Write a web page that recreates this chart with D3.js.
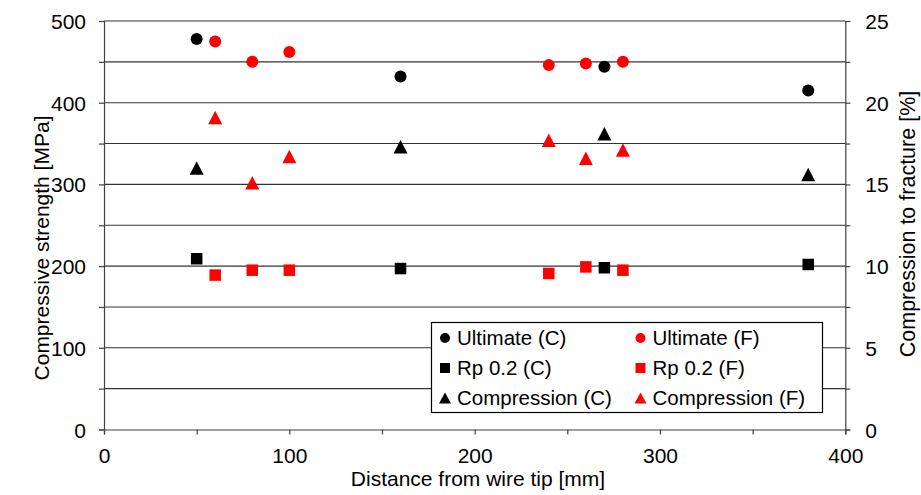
<!DOCTYPE html>
<html>
<head>
<meta charset="utf-8">
<script src="https://cdn.jsdelivr.net/npm/d3@7"></script>
<style>
  html, body { margin: 0; padding: 0; background: #fff; }
  svg { display: block; font-family: "Liberation Sans", Arial, sans-serif; }
</style>
</head>
<body>
<svg id="chart" width="921" height="495"></svg>
<script>
// Sample positions along the wire [mm]
const distC = [50, 160, 270, 380];
const distF = [60, 80, 100, 240, 260, 280];

// Compressive strength [MPa]
const ultimateC = [478, 432, 444, 415];
const ultimateF = [475, 450, 462, 446, 448, 450];
const rp02C = [209, 197, 198, 202];
const rp02F = [189, 195, 195, 191, 199, 195];

// Compression to fracture [%]
const compressionC = [16.0, 17.3, 18.1, 15.6];
const compressionF = [19.1, 15.1, 16.7, 17.7, 16.6, 17.1];

// Axis ticks
const xTicks = [0, 100, 200, 300, 400];
const xMinorTicks = [50, 150, 250, 350];
const yLeftTicks = [0, 100, 200, 300, 400, 500];
const yLeftGrid = [50, 100, 150, 200, 250, 300, 350, 400, 450, 500];
const yRightTicks = [0, 5, 10, 15, 20, 25];

const legendLabels = ["Ultimate (C)", "Ultimate (F)", "Rp 0.2 (C)", "Rp 0.2 (F)", "Compression (C)", "Compression (F)"];

const svg = d3.select("#chart");
const plotLeft = 104, plotRight = 845.3, plotTop = 21, plotBottom = 429.5;

const x = d3.scaleLinear().domain([0, 400]).range([plotLeft, plotRight]);
const yL = d3.scaleLinear().domain([0, 500]).range([plotBottom, plotTop]);
const yR = d3.scaleLinear().domain([0, 25]).range([plotBottom, plotTop]);

const axisColor = "#404040";
const fs = 21;
const fontFam = "Liberation Sans, Arial, sans-serif";

// horizontal gridlines
svg.append("g").selectAll("line").data(yLeftGrid).join("line")
  .attr("x1", plotLeft).attr("x2", plotRight)
  .attr("y1", d => yL(d)).attr("y2", d => yL(d))
  .attr("stroke", "#333").attr("stroke-width", 1.1);

// x axis
const gx = svg.append("g").attr("transform", `translate(0,${plotBottom})`)
  .call(d3.axisBottom(x).tickValues(xTicks.concat(xMinorTicks)).tickSize(5).tickFormat(d => xTicks.includes(d) ? d : ""));
gx.select(".domain").attr("stroke", axisColor).attr("stroke-width", 1.2);
gx.selectAll(".tick line").attr("stroke", axisColor).attr("stroke-width", 1.2);
gx.selectAll(".tick text").attr("font-size", fs).attr("font-family", fontFam)
  .attr("fill", "#000").attr("y", 0).attr("dy", 0).attr("transform", "translate(0,33)");

// left y axis
const gyl = svg.append("g").attr("transform", `translate(${plotLeft},0)`)
  .call(d3.axisLeft(yL).tickValues(yLeftGrid.concat([0])).tickSize(5).tickFormat(d => yLeftTicks.includes(d) ? d : ""));
gyl.select(".domain").attr("stroke", axisColor).attr("stroke-width", 1.2);
gyl.selectAll(".tick line").attr("stroke", axisColor).attr("stroke-width", 1.2);
gyl.selectAll(".tick text").attr("font-size", fs).attr("font-family", fontFam)
  .attr("fill", "#000").attr("x", -18).attr("dy", "0.36em");

// right y axis
const gyr = svg.append("g").attr("transform", `translate(${plotRight},0)`)
  .call(d3.axisRight(yR).tickValues(d3.range(0, 25.1, 2.5)).tickSize(5).tickFormat(d => yRightTicks.includes(d) ? d : ""));
gyr.select(".domain").attr("stroke", axisColor).attr("stroke-width", 1.2);
gyr.selectAll(".tick line").attr("stroke", axisColor).attr("stroke-width", 1.2);
gyr.selectAll(".tick text").attr("font-size", fs).attr("font-family", fontFam)
  .attr("fill", "#000").attr("x", 20).attr("dy", "0.36em");

// axis titles
svg.append("text").attr("x", 478).attr("y", 486).attr("text-anchor", "middle")
  .attr("font-size", 21).text("Distance from wire tip [mm]");
svg.append("text").attr("transform", "translate(49,248) rotate(-90)").attr("text-anchor", "middle")
  .attr("font-size", 21).text("Compressive strength [MPa]");
svg.append("text").attr("transform", "translate(915,224) rotate(-90)").attr("text-anchor", "middle")
  .attr("font-size", 21.5).text("Compression to fracture [%]");

// marker shapes, centred on their bounding box
function circlePath(s) { const r = s / 2; return `M${-r},0A${r},${r} 0 1,0 ${r},0A${r},${r} 0 1,0 ${-r},0Z`; }
function squarePath(s) { const h = s / 2; return `M${-h},${-h}H${h}V${h}H${-h}Z`; }
function trianglePath(w, h) { return `M0,${-h / 2}L${w / 2},${h / 2}L${-w / 2},${h / 2}Z`; }

function plot(xs, ys, yScale, path, color) {
  svg.append("g").selectAll("path").data(xs.map((d, i) => [d, ys[i]])).join("path")
    .attr("transform", d => `translate(${x(d[0])},${yScale(d[1])})`)
    .attr("d", path).attr("fill", color);
}

const black = "#000000", red = "#ff0000";
plot(distC, ultimateC, yL, circlePath(12), black);
plot(distF, ultimateF, yL, circlePath(12), red);
plot(distC, rp02C, yL, squarePath(11.5), black);
plot(distF, rp02F, yL, squarePath(11.5), red);
plot(distC, compressionC, yR, trianglePath(14, 13.5), black);
plot(distF, compressionF, yR, trianglePath(14, 13.5), red);

// legend
const lg = svg.append("g");
lg.append("rect").attr("x", 431.5).attr("y", 322.5).attr("width", 391).attr("height", 90)
  .attr("fill", "#fff").attr("stroke", "#000").attr("stroke-width", 1.2);
const legendShapes = [circlePath(10), circlePath(10), squarePath(10), squarePath(10), trianglePath(12, 11), trianglePath(12, 11)];
const legendColors = [black, red, black, red, black, red];
legendLabels.forEach((lab, i) => {
  const col = i % 2, row = Math.floor(i / 2);
  const mx = col === 0 ? 445 : 640.5;
  const my = 338 + row * 30;
  lg.append("path").attr("transform", `translate(${mx},${my})`).attr("d", legendShapes[i]).attr("fill", legendColors[i]);
  lg.append("text").attr("x", mx + 12).attr("y", my).attr("dy", "0.36em")
    .attr("font-size", 20.5).text(lab);
});
</script>
</body>
</html>
